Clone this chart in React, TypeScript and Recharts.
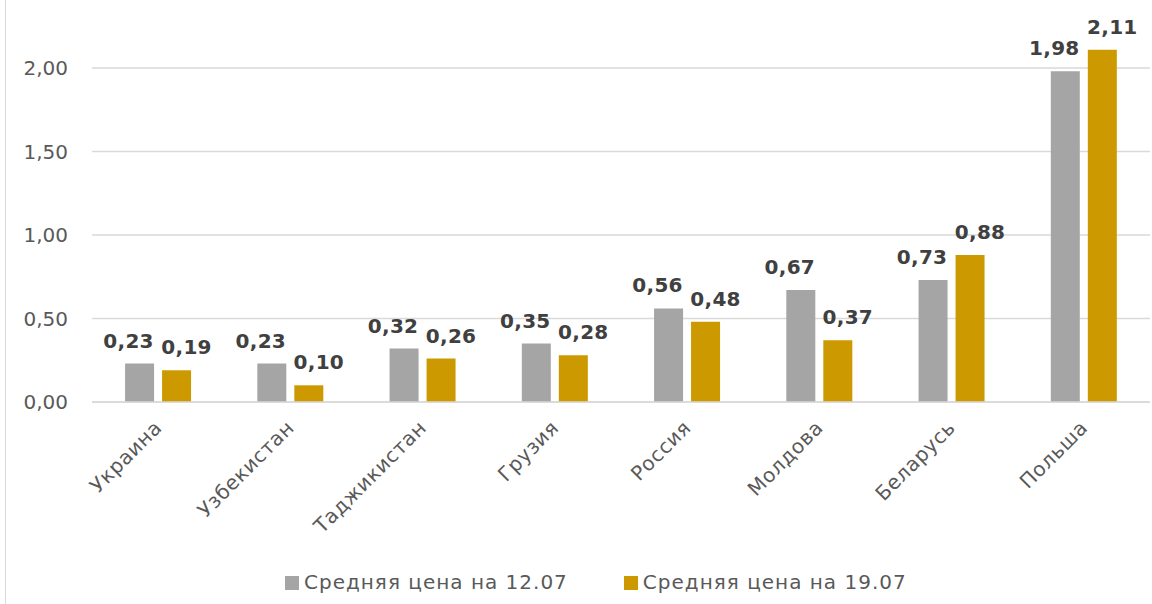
import React from 'react'
import { BarChart, Bar, XAxis, YAxis, CartesianGrid, Legend, LabelList } from 'recharts'

const countries = ['Украина', 'Узбекистан', 'Таджикистан', 'Грузия', 'Россия', 'Молдова', 'Беларусь', 'Польша']
const price1207 = [0.23, 0.23, 0.32, 0.35, 0.56, 0.67, 0.73, 1.98]
const price1907 = [0.19, 0.10, 0.26, 0.28, 0.48, 0.37, 0.88, 2.11]
const yTicks = [0, 0.5, 1, 1.5, 2]
const seriesNames = ['Средняя цена на 12.07', 'Средняя цена на 19.07']

const GRAY = '#a5a5a5'
const GOLD = '#cc9900'
const FONT = '"DejaVu Sans", sans-serif'

const data = countries.map((c, i) => ({ name: c, a: price1207[i], b: price1907[i] }))

const fmt = (v: number) => v.toFixed(2).replace('.', ',')

// подписи категорий под углом -45°
function CategoryTick({ x, y, payload }: any) {
  const tx = x + 5
  const ty = y + 19
  return (
    <text
      x={tx}
      y={ty}
      transform={`rotate(-45, ${tx}, ${ty})`}
      textAnchor="end"
      fill="#595959"
      fontSize={20}
      letterSpacing={0.6}
      fontFamily={FONT}
    >
      {payload.value}
    </text>
  )
}

function ValueLabel({ x, y, width, value, shift }: any) {
  return (
    <text
      x={x + width / 2 + shift}
      y={y - 16}
      textAnchor="middle"
      fill="#404040"
      fontSize={20}
      fontWeight="bold"
      letterSpacing={0.3}
      fontFamily={FONT}
    >
      {fmt(value)}
    </text>
  )
}

function LegendContent() {
  const colors = [GRAY, GOLD]
  return (
    <div style={{ display: 'flex', gap: 56, height: 23, paddingLeft: 285, fontFamily: FONT, fontSize: 20, letterSpacing: 1, color: '#595959', lineHeight: '23px' }}>
      {seriesNames.map((n, i) => (
        <div key={n} style={{ display: 'flex', alignItems: 'center', gap: 5 }}>
          <span style={{ width: 14, height: 14, background: colors[i], display: 'inline-block' }} />
          <span>{n}</span>
        </div>
      ))}
    </div>
  )
}

export default function App() {
  return (
    <div style={{ position: 'absolute', left: 0, top: 0, width: 1152, height: 604, overflow: 'hidden', background: '#fff' }}>
      <div style={{ position: 'absolute', left: 5, top: 0, width: 1, height: 604, background: '#d9d9d9' }} />
      <div style={{ position: 'absolute', left: 0, top: -20 }}>
        <BarChart
          width={1152}
          height={624}
          data={data}
          margin={{ top: 4.5, right: 2, left: 0, bottom: 10 }}
          barCategoryGap="25%"
          barGap={8}
        >
          <CartesianGrid vertical={false} stroke="#d9d9d9" strokeWidth={1.5} />
          <XAxis
            dataKey="name"
            interval={0}
            height={169}
            tickLine={false}
            axisLine={{ stroke: '#d9d9d9', strokeWidth: 1.5 }}
            tick={<CategoryTick />}
          />
          <YAxis
            width={92}
            domain={[0, 2.5]}
            ticks={yTicks}
            tickFormatter={fmt}
            axisLine={false}
            tickLine={false}
            tickMargin={18}
            tick={{ fill: '#595959', fontSize: 20, fontFamily: FONT }}
          />
          <Legend verticalAlign="bottom" content={<LegendContent />} />
          <Bar dataKey="a" name={seriesNames[0]} fill={GRAY} isAnimationActive={false}>
            <LabelList dataKey="a" content={<ValueLabel shift={-11} />} />
          </Bar>
          <Bar dataKey="b" name={seriesNames[1]} fill={GOLD} isAnimationActive={false}>
            <LabelList dataKey="b" content={<ValueLabel shift={10} />} />
          </Bar>
        </BarChart>
      </div>
    </div>
  )
}
